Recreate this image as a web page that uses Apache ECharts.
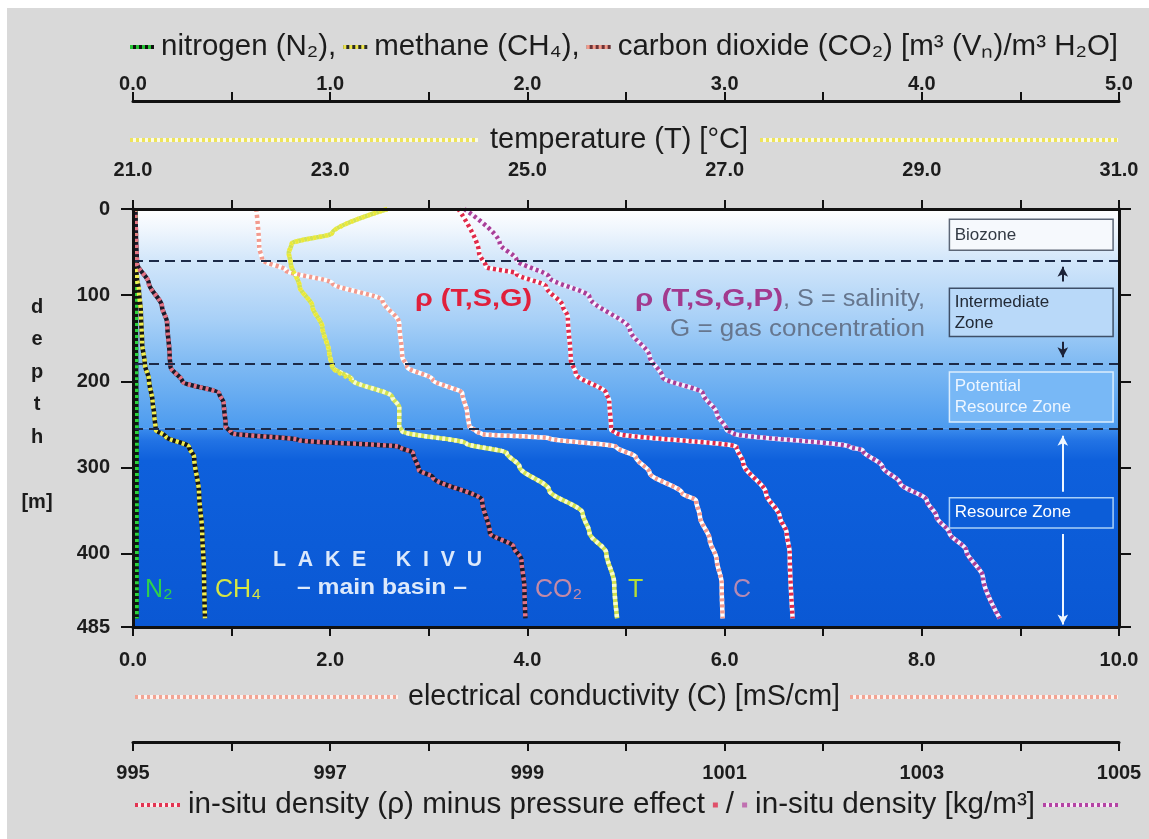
<!DOCTYPE html>
<html>
<head>
<meta charset="utf-8">
<script src="https://cdn.jsdelivr.net/npm/echarts@6/dist/echarts.min.js"></script>
<style>
  html, body { margin: 0; padding: 0; background: #ffffff; }
  #chart { width: 1149px; height: 839px; }
</style>
</head>
<body>
<div id="chart"></div>
<script>
// ---- Lake Kivu (main basin) depth profiles: each point is [value, depth in m] ----
const depthTicks = [0, 100, 200, 300, 400, 485];
const zoneBounds = [60, 180, 255];

// dissolved gases [m3 (Vn) / m3 H2O]
const nitrogen = [[0.012, 0], [0.012, 60], [0.014, 100], [0.016, 200], [0.018, 260], [0.018, 350], [0.018, 475]];
const methane = [[0.01, 0], [0.01, 60], [0.02, 80], [0.03, 94], [0.04, 120], [0.046, 155], [0.06, 180], [0.081, 198],
  [0.1, 225], [0.107, 237], [0.115, 256], [0.166, 264], [0.284, 276], [0.31, 288], [0.335, 330], [0.351, 376],
  [0.36, 420], [0.365, 475]];
const carbonDioxide = [[0.01, 0], [0.015, 30], [0.02, 63], [0.08, 86], [0.147, 113], [0.173, 132], [0.186, 171],
  [0.19, 183], [0.25, 200], [0.437, 214], [0.46, 225], [0.47, 252], [0.50, 260], [0.84, 268], [1.35, 276],
  [1.42, 283], [1.45, 303], [1.52, 311], [1.77, 338], [1.81, 376], [1.93, 392], [1.97, 407], [1.985, 440], [1.99, 475]];

// temperature [°C]
const temperature = [[23.58, 0], [23.02, 28], [22.61, 40], [22.58, 51], [22.6, 63], [22.69, 90], [22.82, 113],
  [22.92, 137], [22.99, 167], [23.02, 183], [23.22, 198], [23.63, 218], [23.7, 230], [23.7, 252], [23.73, 258],
  [24.38, 272], [24.79, 283], [24.92, 299], [25.22, 326], [25.56, 353], [25.63, 376], [25.8, 399], [25.88, 434],
  [25.91, 475]];

// electrical conductivity [mS/cm]
const conductivity = [[1.25, 0], [1.28, 44], [1.31, 59], [1.55, 71], [2.02, 86], [2.53, 106], [2.70, 132],
  [2.73, 171], [2.78, 183], [3.04, 198], [3.34, 214], [3.39, 237], [3.41, 252], [3.48, 258], [3.54, 261],
  [4.22, 266], [4.90, 276], [5.1, 288], [5.24, 306], [5.57, 330], [5.71, 338], [5.75, 357], [5.85, 384],
  [5.92, 407], [5.97, 434], [5.98, 475]];

// density [kg/m3]: without and with the pressure effect
const densityTSG = [[998.30, 0], [998.51, 51], [998.58, 67], [998.89, 75], [999.19, 90], [999.36, 113],
  [999.41, 125], [999.44, 175], [999.49, 191], [999.80, 214], [999.83, 222], [999.85, 256], [999.90, 260],
  [1001.12, 276], [1001.19, 295], [1001.42, 330], [1001.56, 357], [1001.63, 376], [1001.66, 399], [1001.69, 475]];
const densityTSGP = [[998.36, 0], [998.72, 40], [998.89, 59], [999.22, 79], [999.63, 102], [1000.04, 140],
  [1000.24, 171], [1000.37, 195], [1000.78, 214], [1000.92, 237], [1001.02, 256], [1001.08, 260], [1002.27, 276],
  [1002.40, 280], [1002.6, 299], [1002.78, 318], [1003.05, 338], [1003.15, 357], [1003.28, 376], [1003.45, 396],
  [1003.62, 427], [1003.79, 475]];

// tick labels of the four horizontal scales
const condLabels = [0, 2, 4, 6, 8, 10];
const densLabels = [995, 997, 999, 1001, 1003, 1005];
const tempLabels = [21, 23, 25, 27, 29, 31];
const gasLabels = [0, 1, 2, 3, 4, 5];

// zone annotation boxes on the conductivity scale: [name, x0, x1, depthTop, depthBottom]
const zoneBoxes = [
  ['Biozone', 8.28, 9.94, 12, 48],
  ['Intermediate\nZone', 8.28, 9.94, 92, 148],
  ['Potential\nResource Zone', 8.28, 9.94, 189, 247],
  ['Resource Zone', 8.28, 9.94, 335, 370]
];

// ---------------------------------------------------------------------------
const chart = echarts.init(document.getElementById('chart'), null, { renderer: 'canvas' });

const NARROW = '"Liberation Sans Narrow", "Arial Narrow", "Liberation Sans", Arial, sans-serif';
const PLAIN = '"Liberation Sans", Arial, Helvetica, sans-serif';
const ink = '#1c1c1c';
const axisText = { fontFamily: NARROW, fontWeight: 'bold', fontSize: 20, color: ink };

const measureCtx = document.createElement('canvas').getContext('2d');
function measure(text, font) { measureCtx.font = font; return measureCtx.measureText(text).width; }

function textEl(text, x, y, font, fill, scaleX, align) {
  return {
    type: 'text', x: x, y: y, scaleX: scaleX || 1, z: 50, silent: true,
    style: { text: text, font: font, fill: fill, align: align || 'left', verticalAlign: 'middle',
      textAlign: align || 'left', textVerticalAlign: 'middle' }
  };
}
// text squeezed/stretched to span x0..x1
function fitText(text, x0, x1, y, font, fill) {
  return textEl(text, x0, y, font, fill, (x1 - x0) / measure(text, font));
}
// a short two-colour dotted stroke
function dotLine(x0, x1, y, base, dot, w) {
  return [
    { type: 'line', z: 50, silent: true, shape: { x1: x0, y1: y, x2: x1, y2: y }, style: { stroke: base, lineWidth: w || 4 } },
    { type: 'line', z: 51, silent: true, shape: { x1: x0, y1: y, x2: x1, y2: y }, style: { stroke: dot, lineWidth: w || 4, lineDash: [3, 3] } }
  ];
}
// a row of legend items laid out between x0 and x1; text is scaled to fill the row
function legendRow(items, x0, x1, y, font, gap) {
  let fixed = 0, tw = 0;
  items.forEach(it => { if (typeof it === 'string') tw += measure(it, font); else fixed += it.w; });
  fixed += gap * (items.length - 1);
  const s = (x1 - x0 - fixed) / tw;
  let x = x0;
  const out = [];
  items.forEach(it => {
    if (typeof it === 'string') {
      out.push(textEl(it, x, y, font, ink, s));
      x += measure(it, font) * s + gap;
    } else if (it.sq) {
      out.push({ type: 'rect', z: 50, silent: true, shape: { x: x, y: y - 2.5, width: it.w, height: 5 }, style: { fill: it.sq } });
      x += it.w + gap;
    } else {
      out.push(...dotLine(x, x + it.w, y, it.base, it.dot));
      x += it.w + gap;
    }
  });
  return out;
}

const titleFont = '29px ' + NARROW;
const graphics = [
  { type: 'rect', z: -100, silent: true, shape: { x: 7, y: 8, width: 1142, height: 831 }, style: { fill: '#d9d9d9' } },
  ...legendRow([
    { w: 24, base: '#111111', dot: '#25c234' }, 'nitrogen (N\u2082),',
    { w: 24, base: '#2a2a2a', dot: '#ece44a' }, 'methane (CH\u2084),',
    { w: 24, base: '#6a3438', dot: '#f39a8a' }, 'carbon dioxide (CO\u2082) [m\u00b3 (V\u2099)/m\u00b3 H\u2082O]'
  ], 130, 1118, 47, titleFont, 7),
  ...legendRow([
    { w: 348, base: '#fbfbe4', dot: '#eee45a' }, 'temperature (T) [\u00b0C]', { w: 358, base: '#fbfbe4', dot: '#eee45a' }
  ], 130, 1118, 140, titleFont, 12),
  ...legendRow([
    { w: 263, base: '#fff2ee', dot: '#f2a494' }, 'electrical conductivity (C) [mS/cm]', { w: 268, base: '#fff2ee', dot: '#f2a494' }
  ], 135, 1118, 697, titleFont, 10),
  ...legendRow([
    { w: 45, base: '#fde8ea', dot: '#e23452' }, 'in-situ density (\u03c1) minus pressure effect',
    { w: 5, sq: '#e0506a' }, '/', { w: 5, sq: '#c070b0' },
    'in-situ density [kg/m\u00b3]', { w: 75, base: '#f6e6f4', dot: '#b444a4' }
  ], 135, 1118, 805, titleFont, 8),

  // vertical axis caption
  ...['d', 'e', 'p', 't', 'h'].map((c, i) => textEl(c, 37, 307 + i * 32.5, 'bold 20px ' + PLAIN, ink, 1, 'center')),
  textEl('[m]', 37, 502, 'bold 20px ' + PLAIN, ink, 1, 'center'),

  // annotations inside the plot
  fitText('\u03c1 (T,S,G)', 415, 532, 300, 'bold 23px ' + PLAIN, '#e0203c'),
  fitText('\u03c1 (T,S,G,P)', 635, 783, 300, 'bold 23px ' + PLAIN, '#a23a8e'),
  fitText(', S = salinity,', 783, 925, 300, '23px ' + PLAIN, '#66768e'),
  fitText('G = gas concentration', 670, 925, 330, '23px ' + PLAIN, '#66768e'),
  fitText('L  A  K  E     K  I  V  U', 273, 482, 560, 'bold 22px ' + PLAIN, '#dce9fb'),
  fitText('\u2013 main basin \u2013', 297, 467, 588, 'bold 22px ' + PLAIN, '#dce9fb'),
  textEl('N\u2082', 145, 590, '25px ' + PLAIN, '#2fd04a'),
  textEl('CH\u2084', 215, 590, '25px ' + PLAIN, '#d6e642'),
  textEl('CO\u2082', 535, 590, '25px ' + PLAIN, '#c48aa6'),
  textEl('T', 628, 590, '25px ' + PLAIN, '#b6de34'),
  textEl('C', 733, 590, '25px ' + PLAIN, '#b58ab4')
];

// ---------------------------------------------------------------------------
function xAxisOf(opt, labels, fmt, margin) {
  return Object.assign({
    type: 'value', z: 10, splitLine: { show: false },
    axisLine: { show: true, onZero: false, lineStyle: { color: '#111', width: 3 } },
    axisTick: { show: true, inside: false, length: 9, lineStyle: { color: '#111', width: 2 } },
    axisLabel: Object.assign({}, axisText, {
      margin: margin, customValues: labels,
      formatter: v => (labels.indexOf(Math.round(v * 1000) / 1000) >= 0 ? fmt(v) : '')
    })
  }, opt);
}
function yAxisOf(position, showLabels) {
  return {
    type: 'value', inverse: true, min: 0, max: 485, interval: 100, position: position, z: 10,
    splitLine: { show: false },
    axisLine: { show: true, onZero: false, lineStyle: { color: '#111', width: 3 } },
    axisTick: { show: true, inside: false, length: 12, customValues: depthTicks, lineStyle: { color: '#111', width: 2 } },
    axisLabel: Object.assign({}, axisText, { show: showLabels, margin: 23, customValues: depthTicks })
  };
}

function profile(name, data, xIdx, base, dot, extra) {
  const common = {
    type: 'line', data: data, xAxisIndex: xIdx, yAxisIndex: 0, showSymbol: false, symbol: 'none',
    smooth: 0.3, smoothMonotone: 'y', silent: true, animation: false
  };
  return [
    Object.assign({}, common, { name: name, z: 3, lineStyle: { color: base, width: 4.5, cap: 'butt' } }, extra || {}),
    Object.assign({}, common, { name: name + ' dots', z: 4, lineStyle: { color: dot, width: 4.5, type: [3, 3], cap: 'butt' } })
  ];
}

const lgrad = stops => ({ type: 'linear', x: 0, y: 0, x2: 0, y2: 1, colorStops: stops });

const series = [
  ...profile('nitrogen', nitrogen, 3, '#0f1a10', '#2ad23c', {
    markArea: {
      silent: true, z: 1,
      data: [
        [{ yAxis: 0, itemStyle: { color: lgrad([
          { offset: 0, color: '#ffffff' }, { offset: 0.1, color: '#eef5fd' }, { offset: 0.235, color: '#d2e6fa' },
          { offset: 0.5, color: '#a8d0f7' }, { offset: 0.705, color: '#7fbaf3' }, { offset: 1, color: '#4c9bef' }]) } },
         { yAxis: zoneBounds[2] }],
        [{ yAxis: zoneBounds[2], itemStyle: { color: lgrad([
          { offset: 0, color: '#3a8bec' }, { offset: 0.06, color: '#2273e4' }, { offset: 0.16, color: '#0e60dc' },
          { offset: 1, color: '#0a58d4' }]) } },
         { yAxis: 485 }]
      ]
    }
  }),
  ...profile('methane', methane, 3, '#151515', '#f0ee52'),
  ...profile('carbon dioxide', carbonDioxide, 3, '#1b1a2a', '#e47486'),
  ...profile('temperature', temperature, 2, '#d2e252', '#f8fbcc'),
  {
    type: 'line', name: 'temperature upper', data: temperature.filter(p => p[1] <= 200), xAxisIndex: 2, yAxisIndex: 0,
    showSymbol: false, symbol: 'none', smooth: 0.3, smoothMonotone: 'y', silent: true, animation: false, z: 5,
    lineStyle: { color: '#eae83a', width: 4.5, type: [3, 3], cap: 'butt' }
  },
  ...profile('conductivity', conductivity, 0, '#ffffff', '#f29a8e', {
    markArea: {
      silent: true, z: 1,
      data: zoneBoxes.map((b, i) => {
        const styles = [
          { fill: '#f6f9fd', border: '#5c6676', text: '#333a44' },
          { fill: '#b9d9f9', border: '#3e4f68', text: '#222a36' },
          { fill: '#78b8f6', border: '#dcedfd', text: '#eef6ff' },
          { fill: '#0c5dd8', border: '#a9d0f8', text: '#ffffff' }
        ][i];
        return [
          { name: b[0], coord: [b[1], b[3]], itemStyle: { color: styles.fill, borderColor: styles.border, borderWidth: 1.5 },
            label: { show: true, position: 'insideLeft', distance: 6, formatter: '{b}', color: styles.text,
              fontFamily: PLAIN, fontSize: 17, lineHeight: 21 } },
          { coord: [b[2], b[4]] }
        ];
      })
    },
    markLine: {
      silent: true, animation: false, symbol: ['none', 'none'], label: { show: false },
      data: [
        ...zoneBounds.map(d => ({ yAxis: d, lineStyle: { color: '#1c2a48', width: 2, type: [10, 6] } })),
        [{ coord: [9.43, 84], symbol: 'none', lineStyle: { color: '#1c2238', width: 2, type: 'solid' } },
         { coord: [9.43, 67], symbol: 'arrow', symbolSize: [8, 10] }],
        [{ coord: [9.43, 154], symbol: 'none', lineStyle: { color: '#1c2238', width: 2, type: 'solid' } },
         { coord: [9.43, 172], symbol: 'arrow', symbolSize: [8, 10] }],
        [{ coord: [9.43, 328], symbol: 'none', lineStyle: { color: '#eef6ff', width: 2, type: 'solid' } },
         { coord: [9.43, 263], symbol: 'arrow', symbolSize: [8, 10] }],
        [{ coord: [9.43, 377], symbol: 'none', lineStyle: { color: '#eef6ff', width: 2, type: 'solid' } },
         { coord: [9.43, 482], symbol: 'arrow', symbolSize: [8, 10] }]
      ]
    }
  }),
  ...profile('density (T,S,G)', densityTSG, 1, '#ffffff', '#e02a4a'),
  ...profile('density (T,S,G,P)', densityTSGP, 1, '#f6f2ff', '#a83e98')
];

chart.setOption({
  animation: false,
  backgroundColor: '#ffffff',
  grid: { left: 133, right: 30, top: 209, bottom: 212, containLabel: false },
  xAxis: [
    xAxisOf({ position: 'bottom', min: 0, max: 10, interval: 1 }, condLabels, v => v.toFixed(1), 23),
    xAxisOf({ position: 'bottom', offset: 115, min: 995, max: 1005, interval: 1 }, densLabels, v => String(Math.round(v)), 21),
    xAxisOf({ position: 'top', min: 21, max: 31, interval: 1 }, tempLabels, v => v.toFixed(1), 29),
    xAxisOf({ position: 'top', offset: 108, min: 0, max: 5, interval: 0.5 }, gasLabels, v => v.toFixed(1), 7)
  ],
  yAxis: [yAxisOf('left', true), yAxisOf('right', false)],
  series: series,
  graphic: { elements: graphics }
});
</script>
</body>
</html>
